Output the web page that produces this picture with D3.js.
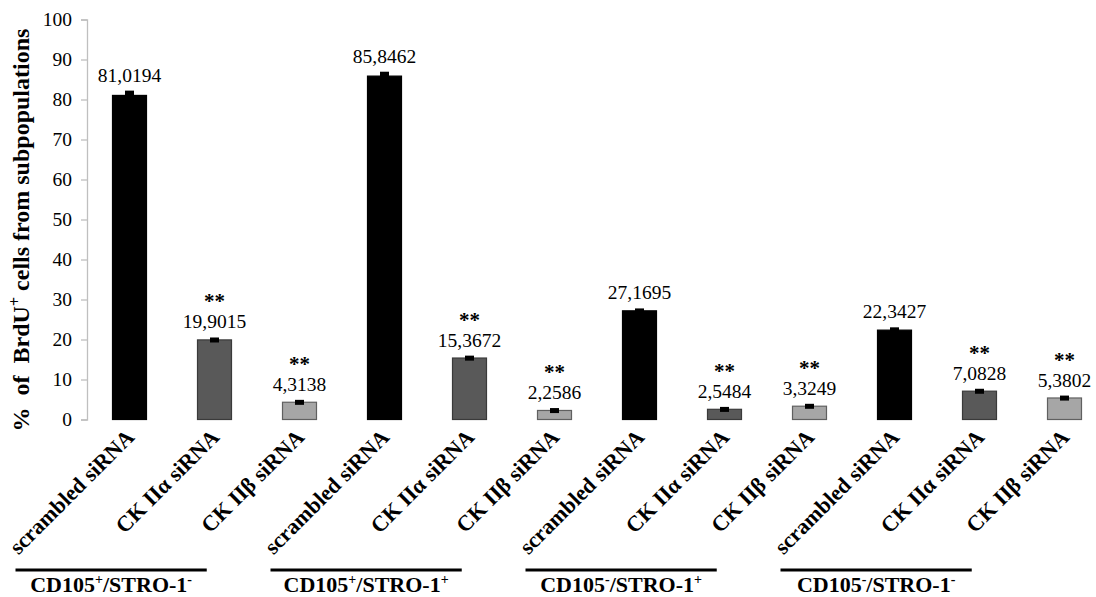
<!DOCTYPE html>
<html>
<head>
<meta charset="utf-8">
<script src="https://cdn.jsdelivr.net/npm/d3@7"></script>
<style>
  html, body { margin: 0; padding: 0; background: #fff; }
  svg { display: block; }
  text { font-family: "Liberation Serif", "Times New Roman", serif; fill: #000; }
</style>
</head>
<body>
<svg id="chart" width="1096" height="597"></svg>
<script>
// BrdU+ proliferation per subpopulation after siRNA treatment
const treatments = ["scrambled siRNA", "CK IIα siRNA", "CK IIβ siRNA"];
const groups = [
  { name: "CD105", sup1: "+", mid: "/STRO-1", sup2: "-" },
  { name: "CD105", sup1: "+", mid: "/STRO-1", sup2: "+" },
  { name: "CD105", sup1: "-", mid: "/STRO-1", sup2: "+" },
  { name: "CD105", sup1: "-", mid: "/STRO-1", sup2: "-" }
];
const values = [81.0194, 19.9015, 4.3138, 85.8462, 15.3672, 2.2586,
                27.1695, 2.5484, 3.3249, 22.3427, 7.0828, 5.3802];
const valueLabels = ["81,0194", "19,9015", "4,3138", "85,8462", "15,3672", "2,2586",
                     "27,1695", "2,5484", "3,3249", "22,3427", "7,0828", "5,3802"];
const errors = [1.2, 0.6, 0.6, 1.1, 0.6, 0.6, 0.6, 0.6, 0.6, 0.7, 0.6, 0.6];
const significant = [false, true, true, false, true, true, false, true, true, false, true, true];
const yTicks = [0, 10, 20, 30, 40, 50, 60, 70, 80, 90, 100];

const fills = ["#000000", "#595959", "#a6a6a6"];
const strokes = ["#000000", "#3a3a3a", "#606060"];

const svg = d3.select("#chart");

const bars = values.map((v, i) => ({
  id: i,
  group: Math.floor(i / treatments.length),
  kind: i % treatments.length,
  label: treatments[i % treatments.length],
  value: v,
  text: valueLabels[i],
  err: errors[i],
  sig: significant[i]
}));

const x = d3.scaleBand()
  .domain(bars.map(d => d.id))
  .range([87, 1107])
  .paddingInner(0.6)
  .paddingOuter(0.3);

const y = d3.scaleLinear().domain([0, 100]).range([419.5, 19.5]);

// y axis
const yAxis = d3.axisLeft(y).tickValues(yTicks).tickSize(6).tickPadding(9);
const gy = svg.append("g").attr("transform", "translate(87,0)").call(yAxis);
gy.select(".domain").attr("stroke", "#bfbfbf").attr("stroke-width", 1.3);
gy.selectAll(".tick line").attr("stroke", "#bfbfbf").attr("stroke-width", 1.3);
gy.selectAll(".tick text")
  .attr("font-family", "Liberation Serif, Times New Roman, serif")
  .attr("font-size", 19.5)
  .attr("fill", "#000");

// y axis title
const title = svg.append("text")
  .attr("transform", `translate(29,230) rotate(-90)`)
  .attr("text-anchor", "middle")
  .attr("font-size", 24)
  .attr("font-weight", "bold")
  .style("white-space", "pre");
title.append("tspan").text("%  of  BrdU");
title.append("tspan").attr("font-size", 16).attr("dy", -9).text("+");
title.append("tspan").attr("dy", 9).text(" cells from subpopulations");

// bars
svg.append("g").selectAll("rect")
  .data(bars)
  .join("rect")
  .attr("x", d => x(d.id))
  .attr("width", x.bandwidth())
  .attr("y", d => y(d.value))
  .attr("height", d => y(0) - y(d.value))
  .attr("fill", d => fills[d.kind])
  .attr("stroke", d => strokes[d.kind])
  .attr("stroke-width", 1.2);

// error bars
svg.append("g").selectAll("rect")
  .data(bars)
  .join("rect")
  .attr("x", d => x(d.id) + x.bandwidth() / 2 - 4.5)
  .attr("width", 9)
  .attr("y", d => y(d.value + d.err))
  .attr("height", d => Math.max(5, y(d.value - d.err) - y(d.value + d.err)))
  .attr("fill", "#000");

// value labels
svg.append("g").selectAll("text")
  .data(bars)
  .join("text")
  .attr("x", d => x(d.id) + x.bandwidth() / 2)
  .attr("y", d => y(d.value + d.err) - 9)
  .attr("text-anchor", "middle")
  .attr("font-size", 19.5)
  .text(d => d.text);

// significance markers
svg.append("g").selectAll("text")
  .data(bars.filter(d => d.sig))
  .join("text")
  .attr("x", d => x(d.id) + x.bandwidth() / 2)
  .attr("y", d => y(d.value + d.err) - 29)
  .attr("text-anchor", "middle")
  .attr("font-size", 21)
  .attr("font-weight", "bold")
  .text("**");

// category labels, rotated
svg.append("g").selectAll("text")
  .data(bars)
  .join("text")
  .attr("transform", d => `translate(${x(d.id) + x.bandwidth() / 2 + 6},${y(0) + 19}) rotate(-45)`)
  .attr("text-anchor", "end")
  .attr("font-size", 22)
  .attr("font-weight", "bold")
  .text(d => d.label);

// group underlines and names
const step = x.step();
const groupG = svg.append("g").selectAll("g")
  .data(groups)
  .join("g")
  .attr("transform", (d, i) => {
    const c = x(i * 3) + x.bandwidth() / 2;
    return `translate(${c - 114},0)`;
  });

groupG.append("line")
  .attr("x1", 0)
  .attr("x2", 2.25 * step)
  .attr("y1", 570)
  .attr("y2", 570)
  .attr("stroke", "#000")
  .attr("stroke-width", 3);

const gl = groupG.append("text")
  .attr("x", 1.125 * step)
  .attr("y", 592)
  .attr("text-anchor", "middle")
  .attr("font-size", 22)
  .attr("font-weight", "bold");
gl.append("tspan").text(d => d.name);
gl.append("tspan").attr("font-size", 14).attr("dy", -8).text(d => d.sup1);
gl.append("tspan").attr("dy", 8).text(d => d.mid);
gl.append("tspan").attr("font-size", 14).attr("dy", -8).text(d => d.sup2);
</script>
</body>
</html>
